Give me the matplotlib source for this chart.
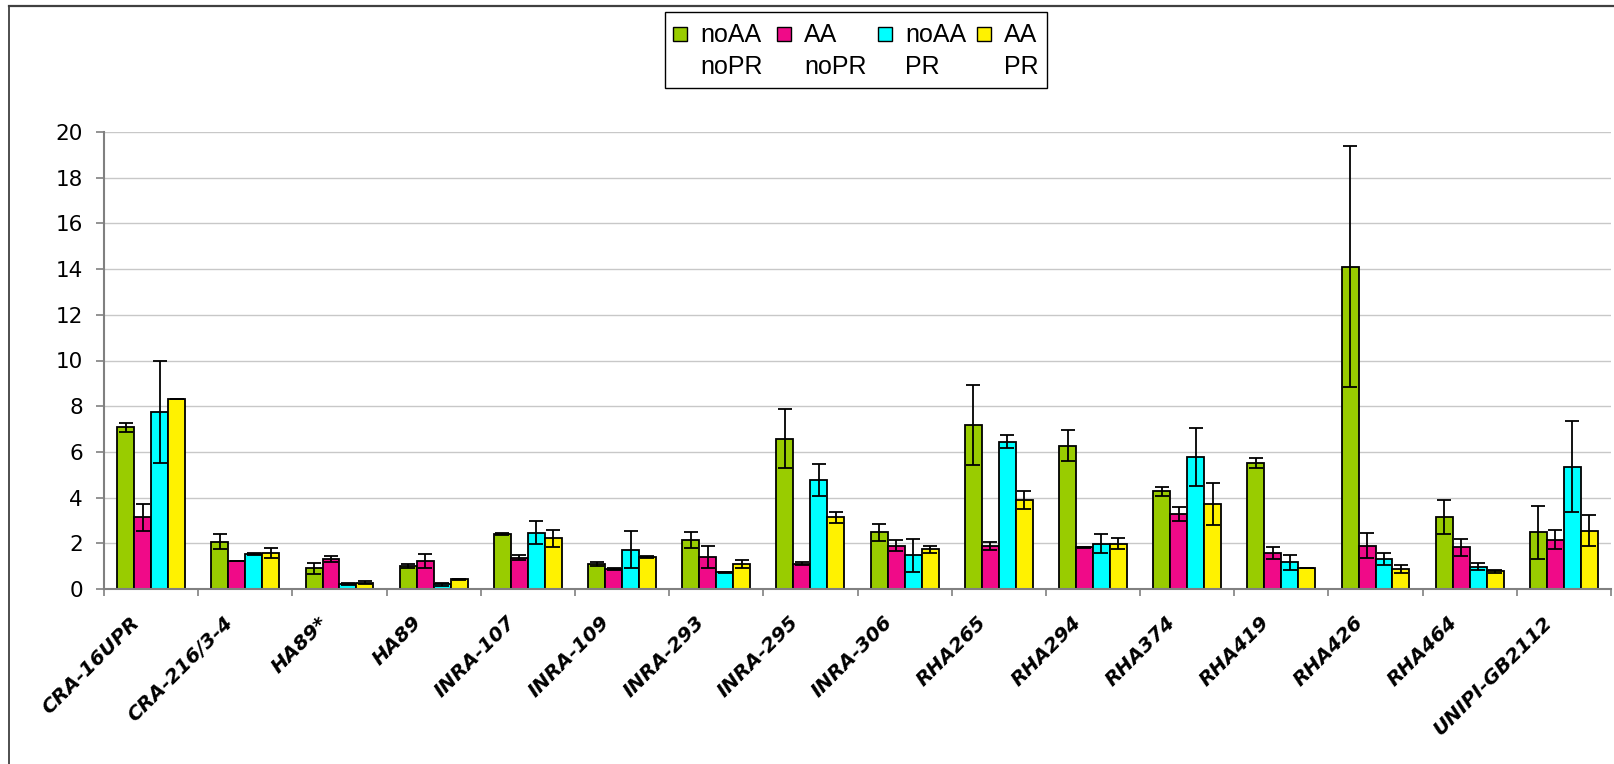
import numpy as np
import matplotlib
matplotlib.use("Agg")
import matplotlib.pyplot as plt
from matplotlib.patches import Rectangle
from matplotlib.lines import Line2D
from matplotlib.transforms import ScaledTranslation

# ---- data -------------------------------------------------------------
categories = ["CRA-16UPR", "CRA-216/3-4", "HA89*", "HA89", "INRA-107", "INRA-109",
              "INRA-293", "INRA-295", "INRA-306", "RHA265", "RHA294", "RHA374",
              "RHA419", "RHA426", "RHA464", "UNIPI-GB2112"]

series_labels = ["noAA\nnoPR", "AA\nnoPR", "noAA\nPR", "AA\nPR"]

noaa_nopr     = [7.08, 2.07, 0.90, 1.02, 2.40, 1.08, 2.15, 6.58, 2.48, 7.18, 6.28, 4.28, 5.52, 14.10, 3.15, 2.48]
noaa_nopr_err = [0.20, 0.34, 0.24, 0.08, 0.05, 0.09, 0.35, 1.28, 0.38, 1.74, 0.66, 0.20, 0.22, 5.27, 0.75, 1.17]
aa_nopr       = [3.14, 1.24, 1.31, 1.22, 1.37, 0.88, 1.40, 1.10, 1.89, 1.88, 1.83, 3.28, 1.56, 1.90, 1.82, 2.15]
aa_nopr_err   = [0.58, 0.00, 0.12, 0.29, 0.12, 0.03, 0.50, 0.07, 0.24, 0.16, 0.02, 0.29, 0.26, 0.55, 0.37, 0.42]
noaa_pr       = [7.75, 1.52, 0.22, 0.20, 2.47, 1.72, 0.73, 4.79, 1.48, 6.45, 1.98, 5.78, 1.17, 1.31, 0.98, 5.36]
noaa_pr_err   = [2.22, 0.05, 0.04, 0.05, 0.50, 0.80, 0.02, 0.70, 0.73, 0.29, 0.42, 1.28, 0.33, 0.26, 0.17, 1.99]
aa_pr         = [8.33, 1.57, 0.27, 0.42, 2.22, 1.40, 1.08, 3.14, 1.73, 3.89, 1.98, 3.72, 0.91, 0.89, 0.77, 2.55]
aa_pr_err     = [0.00, 0.23, 0.06, 0.02, 0.38, 0.03, 0.18, 0.24, 0.15, 0.38, 0.25, 0.90, 0.00, 0.17, 0.07, 0.68]

y_ticks = [0, 2, 4, 6, 8, 10, 12, 14, 16, 18, 20]

# ---- styling ----------------------------------------------------------
colors = ["#99CC00", "#F00A88", "#00FFFF", "#FFF200"]
W, H, DPI = 1614, 764, 100

values = [noaa_nopr, aa_nopr, noaa_pr, aa_pr]
errors = [noaa_nopr_err, aa_nopr_err, noaa_pr_err, aa_pr_err]

fig = plt.figure(figsize=(W / DPI, H / DPI), dpi=DPI)
fig.patch.set_facecolor("white")

def fx(px):
    return px / W

def fy(py):
    return 1 - py / H

# plot area in pixel terms: x 104..1611, y 132..589
ax = fig.add_axes([fx(104), fy(589), fx(1611) - fx(104), fy(132) - fy(589)])

n = len(categories)
centers = np.arange(n) + 0.5
bar_w = 0.18
offsets = [-1.5 * bar_w, -0.5 * bar_w, 0.5 * bar_w, 1.5 * bar_w]

for vals, errs, col, off in zip(values, errors, colors, offsets):
    ax.bar(centers + off, vals, width=bar_w, color=col, edgecolor="black",
           linewidth=1.3, zorder=2)
    ax.errorbar(centers + off, vals, yerr=errs, fmt="none", ecolor="black",
                elinewidth=1.3, capsize=4.7, capthick=1.3, zorder=3)

ax.set_xlim(0, n)
ax.set_ylim(0, 20)
ax.set_yticks(y_ticks)
ax.set_yticklabels([str(t) for t in y_ticks], fontsize=15.5, family="DejaVu Sans")
ax.yaxis.grid(True, color="#C8C8C8", linewidth=1.0, zorder=0)
ax.set_axisbelow(True)

# category boundaries carry the tick marks, centres carry the labels
ax.set_xticks(np.arange(n + 1))
ax.set_xticklabels([])
ax.set_xticks(centers, minor=True)
ax.set_xticklabels(categories, minor=True, rotation=45, ha="right", va="center",
                   rotation_mode="anchor", fontsize=14.5, fontweight="bold",
                   fontstyle="italic", family="DejaVu Sans")
ax.tick_params(axis="x", which="minor", length=0, pad=22)
ax.tick_params(axis="x", which="major", length=5, width=1.2, color="#808080",
               direction="out")
ax.tick_params(axis="y", length=6, width=1.2, color="#808080", pad=9)

shift = ScaledTranslation(-15 / DPI, 0, fig.dpi_scale_trans)
for lbl in ax.get_xticklabels(minor=True):
    lbl.set_transform(lbl.get_transform() + shift)

for side in ("top", "right"):
    ax.spines[side].set_visible(False)
for side in ("left", "bottom"):
    ax.spines[side].set_color("#808080")
    ax.spines[side].set_linewidth(1.5)

# chart area border (top and left edges)
fig.add_artist(Line2D([fx(9), fx(9)], [fy(6), 0], color="#404040", linewidth=1.3))
fig.add_artist(Line2D([fx(9), 1], [fy(6), fy(6)], color="#404040", linewidth=1.6))

# legend box
fig.add_artist(Rectangle((fx(665), fy(88)), fx(1047) - fx(665), fy(12) - fy(88),
                         facecolor="white", edgecolor="black", linewidth=1.0))
col_x = [673, 777, 878, 977]
for x0, col, lab in zip(col_x, colors, series_labels):
    fig.add_artist(Rectangle((fx(x0), fy(41)), fx(14), 14 / H,
                             facecolor=col, edgecolor="black", linewidth=1.0))
    for i, line in enumerate(lab.split("\n")):
        fig.text(fx(x0 + 27), fy(35 + 32 * i), line, fontsize=18,
                 family="Liberation Sans", ha="left", va="center")

fig.savefig("out.png", dpi=DPI, facecolor="white")
